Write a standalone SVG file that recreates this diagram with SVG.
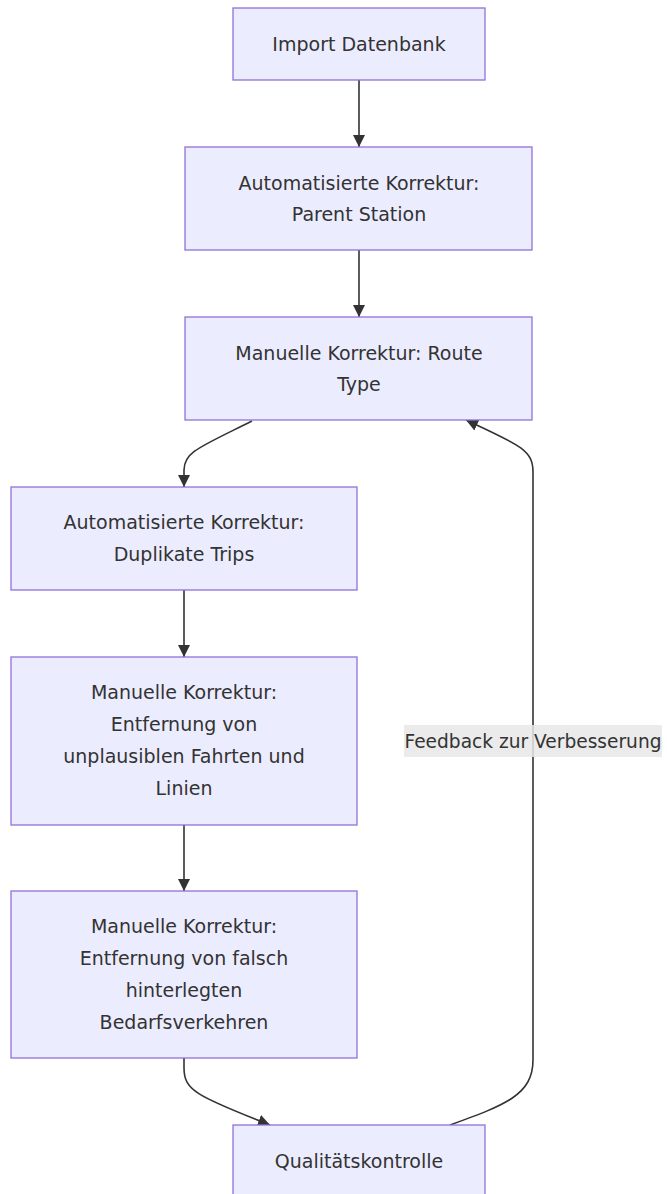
<svg xmlns="http://www.w3.org/2000/svg" width="667" height="1194" viewBox="0 0 667 1194">
<style>
.node rect{fill:#ECECFF;stroke:#9370DB;stroke-width:1.3px;}
.node text{font-family:"DejaVu Sans",sans-serif;font-size:19px;fill:#333;text-anchor:middle;dominant-baseline:central;}
.edge{fill:none;stroke:#333;stroke-width:1.6px;}
.lbl-bg{fill:#e8e8e8;opacity:0.85;}
.lbl{font-family:"DejaVu Sans",sans-serif;font-size:18.6px;fill:#333;text-anchor:middle;dominant-baseline:central;}
</style>
<defs>
<marker id="arrow" viewBox="0 0 10 10" refX="10" refY="5" markerUnits="userSpaceOnUse" markerWidth="12" markerHeight="12" orient="auto">
<path d="M0,0 L10,5 L0,10 z" fill="#333"/>
</marker>
</defs>
<rect width="667" height="1194" fill="#fff"/>
<g id="edges">
<path class="edge" d="M359,80 L359,147" marker-end="url(#arrow)"/>
<path class="edge" d="M359,250 L359,317" marker-end="url(#arrow)"/>
<path class="edge" d="M252,421 C200,447 184,452 184,470 L184,487" marker-end="url(#arrow)"/>
<path class="edge" d="M184,590 L184,657" marker-end="url(#arrow)"/>
<path class="edge" d="M184,825 L184,891" marker-end="url(#arrow)"/>
<path class="edge" d="M184,1058 L184,1068 C184,1090 196,1096 270,1125" marker-end="url(#arrow)"/>
<path class="edge" d="M450,1125 C505,1105 533,1095 533,1060 L533,472 C533,450 520,445 466,420" marker-end="url(#arrow)"/>
<g id="edge-label">
<rect class="lbl-bg" x="404" y="725" width="258" height="32"/>
<text class="lbl" x="533" y="741">Feedback zur Verbesserung</text>
</g>
</g>
<g id="n1" class="node"><rect x="233" y="8" width="252" height="72"/><text x="359" y="44">Import Datenbank</text></g>
<g id="n2" class="node"><rect x="185" y="147" width="347" height="103"/><text x="359" y="183">Automatisierte Korrektur:</text><text x="359" y="214">Parent Station</text></g>
<g id="n3" class="node"><rect x="185" y="317" width="347" height="103"/><text x="359" y="353">Manuelle Korrektur: Route</text><text x="359" y="384">Type</text></g>
<g id="n4" class="node"><rect x="11" y="487" width="346" height="103"/><text x="184" y="522">Automatisierte Korrektur:</text><text x="184" y="554">Duplikate Trips</text></g>
<g id="n5" class="node"><rect x="11" y="657" width="346" height="168"/><text x="184" y="692">Manuelle Korrektur:</text><text x="184" y="724">Entfernung von</text><text x="184" y="756">unplausiblen Fahrten und</text><text x="184" y="788">Linien</text></g>
<g id="n6" class="node"><rect x="11" y="891" width="346" height="167"/><text x="184" y="926">Manuelle Korrektur:</text><text x="184" y="958">Entfernung von falsch</text><text x="184" y="990">hinterlegten</text><text x="184" y="1022">Bedarfsverkehren</text></g>
<g id="n7" class="node"><rect x="233" y="1125" width="252" height="72"/><text x="359" y="1161">Qualitätskontrolle</text></g>
</svg>
